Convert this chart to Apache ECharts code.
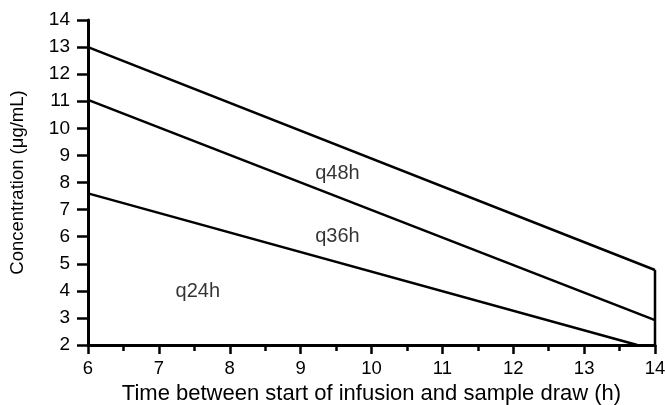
<!DOCTYPE html>
<html><head><meta charset="utf-8">
<script src="https://cdn.jsdelivr.net/npm/echarts@6/dist/echarts.min.js"></script>
<style>html,body{margin:0;padding:0;background:#fff}#c{width:665px;height:405px}</style>
</head><body><div id="c"></div>
<script>
// Data (x = hours, y = concentration µg/mL)
const q48 = [[6, 13.0], [14, 4.77]];
const q36 = [[6, 11.05], [14, 2.92]];
const q24 = [[6, 7.6], [13.75, 2.0]];
const rightEdge = [[14, 2], [14, 4.77]];
const labelNames = ['q48h', 'q36h', 'q24h'];
const labelPos = [[9.52, 8.35], [9.52, 6.0], [7.55, 3.98]];
const xTicks = [6, 7, 8, 9, 10, 11, 12, 13, 14];
const yTicks = [2, 3, 4, 5, 6, 7, 8, 9, 10, 11, 12, 13, 14];

const font = "'Liberation Sans', Arial, Helvetica, sans-serif";
const ink = '#000';
const chart = echarts.init(document.getElementById('c'));
const lineStyle = { color: ink, width: 2.5 };
function lineSeries(d) {
  return { type: 'line', data: d, symbol: 'none', lineStyle: lineStyle, silent: true, animation: false, z: 3 };
}
chart.setOption({
  animation: false,
  grid: { left: 88, right: 10, top: 20, bottom: 60, containLabel: false, outerBoundsMode: 'none' },
  xAxis: {
    type: 'value', min: xTicks[0], max: xTicks[xTicks.length - 1], interval: 1,
    name: 'Time between start of infusion and sample draw (h)',
    nameLocation: 'middle', nameGap: 36,
    nameTextStyle: { fontFamily: font, fontSize: 22, color: ink },
    axisLine: { show: true, lineStyle: { color: ink, width: 3 } },
    axisTick: { show: true, length: 9, lineStyle: { color: ink, width: 2.5 } },
    minorTick: { show: true, splitNumber: 2, length: 6, lineStyle: { color: ink, width: 2.5 } },
    axisLabel: { fontFamily: font, fontSize: 18.5, color: ink, margin: 14 },
    splitLine: { show: false }
  },
  yAxis: {
    type: 'value', min: yTicks[0], max: yTicks[yTicks.length - 1], interval: 1,
    name: 'Concentration (\u03bcg/mL)',
    nameLocation: 'middle', nameGap: 61,
    nameTextStyle: { fontFamily: font, fontSize: 18.5, color: ink },
    axisLine: { show: true, lineStyle: { color: ink, width: 3 } },
    axisTick: { show: true, length: 11, lineStyle: { color: ink, width: 2.5 } },
    axisLabel: { fontFamily: font, fontSize: 19, color: ink, margin: 18 },
    splitLine: { show: false }
  },
  series: [
    lineSeries(q48),
    lineSeries(q36),
    lineSeries(q24),
    lineSeries(rightEdge),
    {
      type: 'scatter', symbolSize: 0, silent: true,
      data: labelPos.map((p, i) => ({ value: p, name: labelNames[i] })),
      label: { show: true, position: 'inside', formatter: '{b}', fontFamily: font, fontSize: 20, color: ink }
    }
  ]
});
</script></body></html>
